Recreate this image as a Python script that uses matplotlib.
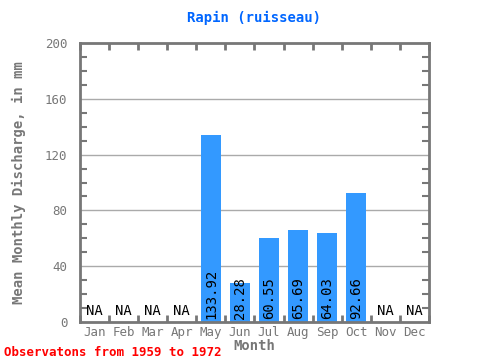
import matplotlib
matplotlib.use("Agg")
import matplotlib.pyplot as plt
import numpy as np

months = ["Jan", "Feb", "Mar", "Apr", "May", "Jun", "Jul", "Aug", "Sep", "Oct", "Nov", "Dec"]
values = [None, None, None, None, 133.92, 28.28, 60.55, 65.69, 64.03, 92.66, None, None]
yticks = [0, 40, 80, 120, 160, 200]

FONT = "DejaVu Sans Mono"
GRAY = "#777777"

fig = plt.figure(figsize=(4.8, 3.6), dpi=100)
ax = fig.add_axes([80/480, 38/360, 349/480, 279/360])

x = np.arange(len(months))
for i, v in enumerate(values):
    if v is None:
        ax.text(i, 3, "NA", ha="center", va="bottom", fontsize=10, family=FONT, color="black")
    else:
        ax.bar(i, v, width=0.7, color="#3399FF", zorder=2)
        ax.text(i, 2, f"{v:.2f}", rotation=90, ha="center", va="bottom", fontsize=10,
                family=FONT, color="black", zorder=3)

ax.set_xlim(-0.5, 11.5)
ax.set_ylim(0, 200)
ax.set_yticks(yticks)
ax.set_yticklabels([str(t) for t in yticks], family=FONT, fontsize=9, color=GRAY)
ax.set_yticks(np.arange(0, 201, 10), minor=True)
ax.set_xticks(x)
ax.set_xticklabels(months, family=FONT, fontsize=9, color=GRAY)
ax.tick_params(axis="x", which="major", length=0, pad=3)
ax.set_xticks(np.arange(-0.5, 12, 1), minor=True)
ax.tick_params(axis="x", which="minor", direction="in", length=5, width=2, color=GRAY, top=True, bottom=True)
ax.tick_params(axis="y", which="major", direction="in", length=0, pad=9)
ax.tick_params(axis="y", which="minor", direction="in", length=5, width=1.5, color=GRAY, left=True, right=True)

for t in [40, 80, 120, 160]:
    ax.axhline(t, color="#aaaaaa", linewidth=1, zorder=1)

for s in ax.spines.values():
    s.set_color(GRAY)
    s.set_linewidth(2)

ax.set_xlabel("Month", family=FONT, fontsize=10, fontweight="bold", color=GRAY, labelpad=0)
ax.set_ylabel("Mean Monthly Discharge, in mm", family=FONT, fontsize=10, fontweight="bold", color=GRAY, labelpad=14)
fig.text(0.5*(80+429)/480, 1 - 18/360, "Rapin (ruisseau)", ha="center", va="center",
         family=FONT, fontsize=10, fontweight="bold", color="#0066FF")
fig.text(4/480, 1 - 352/360, "Observatons from 1959 to 1972", ha="left", va="center",
         family=FONT, fontsize=9, fontweight="bold", color="red")

fig.savefig("out.png", dpi=100)
